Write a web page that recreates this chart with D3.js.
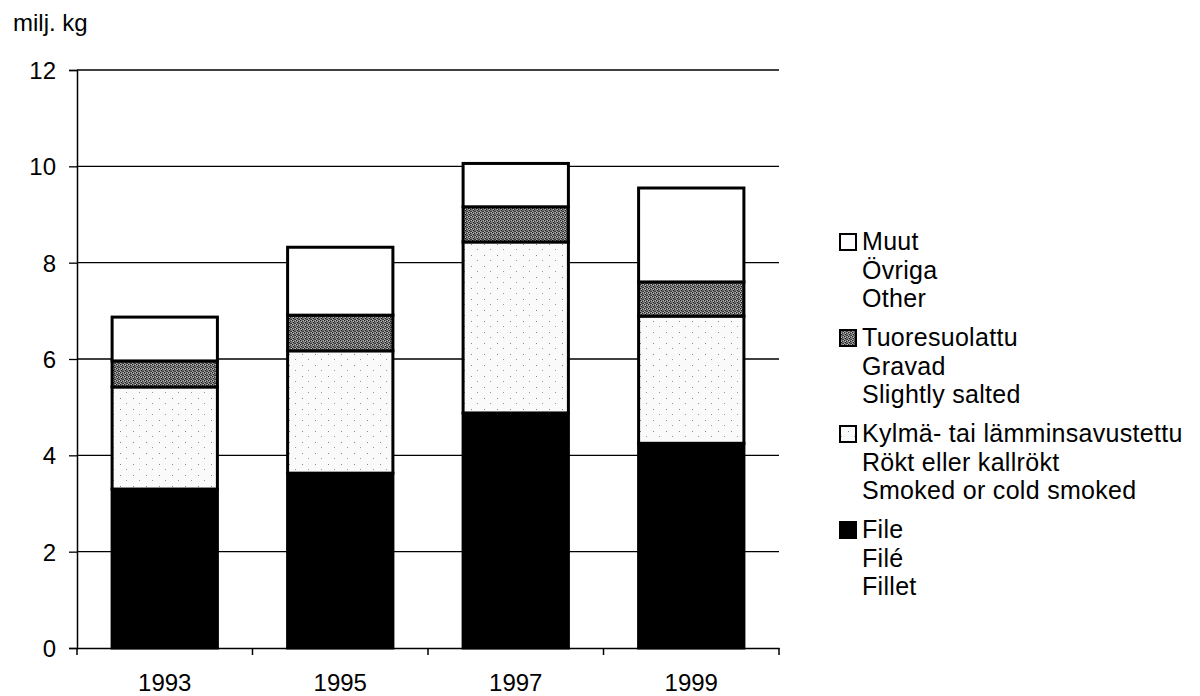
<!DOCTYPE html>
<html><head><meta charset="utf-8">
<script src="https://cdn.jsdelivr.net/npm/d3@7"></script>
<style>body{margin:0;background:#fff;} text{font-family:Arial,"Liberation Sans",sans-serif;fill:#000;}</style>
</head><body>
<svg id="c" width="1200" height="696"></svg>
<script>
const years = ["1993","1995","1997","1999"];
const fillet = [3.3, 3.63, 4.88, 4.25];
const smoked = [2.12, 2.54, 3.55, 2.64];
const gravad = [0.54, 0.74, 0.73, 0.71];
const other = [0.91, 1.41, 0.9, 1.95];
const yTicks = [0,2,4,6,8,10,12];
const seriesNames = ["fillet","smoked","gravad","other"];
const seriesFill = {fillet:"#000", smoked:"url(#pSmoked)", gravad:"url(#pGravad)", other:"#fff"};
const legendItems = [
  {key:"other", lines:["Muut","Övriga","Other"]},
  {key:"gravad", lines:["Tuoresuolattu","Gravad","Slightly salted"]},
  {key:"smoked", lines:["Kylmä- tai lämminsavustettu","Rökt eller kallrökt","Smoked or cold smoked"]},
  {key:"fillet", lines:["File","Filé","Fillet"]}
];

const svg = d3.select("#c");
const defs = svg.append("defs");
const pg = defs.append("pattern").attr("id","pGravad").attr("patternUnits","userSpaceOnUse").attr("width",4).attr("height",4);
pg.append("rect").attr("width",4).attr("height",4).attr("fill","#787878");
[[0,0,"#1a1a1a"],[2,1,"#2a2a2a"],[1,2,"#1a1a1a"],[3,3,"#333"],[2,3,"#444"],[3,0,"#bbb"],[1,1,"#c4c4c4"],[0,3,"#aaa"]]
  .forEach(p=>pg.append("rect").attr("x",p[0]).attr("y",p[1]).attr("width",1).attr("height",1).attr("fill",p[2]));
const ps = defs.append("pattern").attr("id","pSmoked").attr("patternUnits","userSpaceOnUse").attr("width",13).attr("height",11);
ps.append("rect").attr("width",13).attr("height",11).attr("fill","#fafafa");
ps.append("rect").attr("x",3).attr("y",2).attr("width",1).attr("height",1).attr("fill","#888");
ps.append("rect").attr("x",9).attr("y",7).attr("width",1).attr("height",1).attr("fill","#999");

const x = d3.scaleBand().domain(years).range([77,779]).paddingInner(0.4).paddingOuter(0.2);
const y = d3.scaleLinear().domain([0,12]).range([648,70]);

const data = years.map((yr,i)=>({year:yr, fillet:fillet[i], smoked:smoked[i], gravad:gravad[i], other:other[i]}));
const stack = d3.stack().keys(seriesNames)(data);

// gridlines
svg.append("g").selectAll("line").data(yTicks.filter(d=>d>0)).join("line")
  .attr("x1",77).attr("x2",779).attr("y1",d=>y(d)).attr("y2",d=>y(d))
  .attr("stroke","#000").attr("stroke-width",1.3);

// bars
const gBars = svg.append("g");
stack.forEach(s=>{
  gBars.append("g").selectAll("rect").data(s).join("rect")
    .attr("x",d=>x(d.data.year)).attr("width",x.bandwidth())
    .attr("y",d=>y(d[1])).attr("height",d=>y(d[0])-y(d[1]))
    .attr("fill",seriesFill[s.key]).attr("stroke","#000").attr("stroke-width",3);
});

// y axis
const yAxis = svg.append("g").attr("transform","translate(77,0)")
  .call(d3.axisLeft(y).tickValues(yTicks).tickSize(8).tickPadding(13));
yAxis.select(".domain").attr("stroke","#000").attr("stroke-width",1.5);
yAxis.selectAll(".tick line").attr("stroke","#000").attr("stroke-width",1.3);
yAxis.selectAll("text").attr("font-size",null).style("font-size","24px").attr("font-family",null).attr("dy","0.35em");

// x axis, ticks between categories
const xAxis = svg.append("g").attr("transform","translate(0,648)")
  .call(d3.axisBottom(x).tickSize(0).tickPadding(26));
xAxis.select(".domain").attr("stroke","#000").attr("stroke-width",1.5);
xAxis.selectAll("text").attr("font-size",null).style("font-size","24px").attr("font-family",null);
const bounds = [x.range()[0]].concat(years.map(yr=>x(yr)+x.bandwidth()+x.step()*x.paddingInner()/2));
bounds[bounds.length-1]=x.range()[1];
svg.append("g").selectAll("line").data(bounds).join("line")
  .attr("x1",d=>d).attr("x2",d=>d).attr("y1",648).attr("y2",655)
  .attr("stroke","#000").attr("stroke-width",1.5);

// unit label
svg.append("text").attr("x",13).attr("y",31).text("milj. kg").style("font-size","24px");

// legend
const lg = svg.append("g");
legendItems.forEach((it,i)=>{
  const y0 = 250 + i*96;
  lg.append("rect").attr("x",840).attr("y",y0-16).attr("width",16).attr("height",16)
    .attr("fill",seriesFill[it.key]).attr("stroke","#000").attr("stroke-width",2);
  it.lines.forEach((t,j)=>{
    lg.append("text").attr("x",862).attr("y",y0+j*28.5).text(t)
      .style("font-size","25px").style("letter-spacing","0.3px");
  });
});
</script>
</body></html>
